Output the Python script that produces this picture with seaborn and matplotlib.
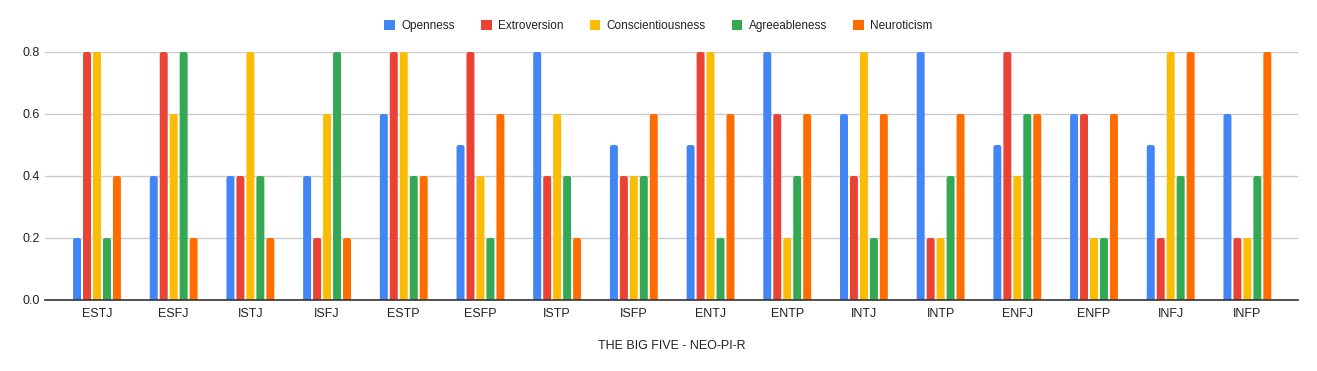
import matplotlib
matplotlib.use("Agg")
import matplotlib.pyplot as plt
import seaborn as sns
import pandas as pd
from matplotlib.ticker import FormatStrFormatter
from matplotlib.patches import FancyBboxPatch, Rectangle

types = ["ESTJ", "ESFJ", "ISTJ", "ISFJ", "ESTP", "ESFP", "ISTP", "ISFP",
         "ENTJ", "ENTP", "INTJ", "INTP", "ENFJ", "ENFP", "INFJ", "INFP"]
openness          = [0.2, 0.4, 0.4, 0.4, 0.6, 0.5, 0.8, 0.5, 0.5, 0.8, 0.6, 0.8, 0.5, 0.6, 0.5, 0.6]
extroversion      = [0.8, 0.8, 0.4, 0.2, 0.8, 0.8, 0.4, 0.4, 0.8, 0.6, 0.4, 0.2, 0.8, 0.6, 0.2, 0.2]
conscientiousness = [0.8, 0.6, 0.8, 0.6, 0.8, 0.4, 0.6, 0.4, 0.8, 0.2, 0.8, 0.2, 0.4, 0.2, 0.8, 0.2]
agreeableness     = [0.2, 0.8, 0.4, 0.8, 0.4, 0.2, 0.4, 0.4, 0.2, 0.4, 0.2, 0.4, 0.6, 0.2, 0.4, 0.4]
neuroticism       = [0.4, 0.2, 0.2, 0.2, 0.4, 0.6, 0.2, 0.6, 0.6, 0.6, 0.6, 0.6, 0.6, 0.6, 0.8, 0.8]

series_names = ["Openness", "Extroversion", "Conscientiousness", "Agreeableness", "Neuroticism"]
series_vals = [openness, extroversion, conscientiousness, agreeableness, neuroticism]
colors = ["#4285F4", "#EA4335", "#FBBC04", "#34A853", "#FF6D01"]

rows = []
for name, vals in zip(series_names, series_vals):
    for t, v in zip(types, vals):
        rows.append({"type": t, "trait": name, "value": v})
df = pd.DataFrame(rows)

sns.set_theme(style="white")
plt.rcParams["font.family"] = ["Liberation Sans", "DejaVu Sans"]

fig = plt.figure(figsize=(13.17, 3.71), dpi=100)
ax = fig.add_axes([45 / 1317, 1 - 300 / 371, (1298 - 45) / 1317, 248 / 371])

sns.barplot(data=df, x="type", y="value", hue="trait", order=types,
            hue_order=series_names, palette=colors, width=0.65, gap=0.2,
            errorbar=None, ax=ax, saturation=1, linewidth=0)

ax.set_xlim(-0.678, 15.66)
ax.set_ylim(0, 0.8)

# rounded bar tops (Google Sheets style)
xpx = ax.get_position().width * 1317 / (15.66 + 0.678)
ypx = ax.get_position().height * 371 / 0.8
aspect = xpx / ypx
for p in list(ax.patches):
    if isinstance(p, Rectangle) and p.get_height() > 0:
        x, y, w, h = p.get_x(), p.get_y(), p.get_width(), p.get_height()
        fc = p.get_facecolor()
        p.set_visible(False)
        fb = FancyBboxPatch((x, y - 0.02), w, h + 0.02,
                            boxstyle="round,pad=0,rounding_size=%f" % (w * 0.3),
                            mutation_aspect=aspect, facecolor=fc, edgecolor="none",
                            zorder=2)
        ax.add_patch(fb)

ax.set_yticks([0, 0.2, 0.4, 0.6, 0.8])
ax.yaxis.set_major_formatter(FormatStrFormatter("%.1f"))
ax.grid(axis="y", color="#cccccc", linewidth=1)
ax.set_axisbelow(True)
for s in ["top", "right", "left"]:
    ax.spines[s].set_visible(False)
ax.spines["bottom"].set_color("#333333")
ax.spines["bottom"].set_linewidth(1.2)
ax.spines["bottom"].set_zorder(3)
ax.tick_params(axis="x", length=0, labelsize=9, colors="#222222", pad=6)
ax.tick_params(axis="y", length=0, labelsize=9, colors="#222222", pad=3.5)
ax.set_ylabel("")
ax.set_xlabel("THE BIG FIVE - NEO-PI-R", fontsize=9, color="#222222", labelpad=14)

handles, labels = ax.get_legend_handles_labels()
ax.legend_.remove()
fig.legend(handles, labels, loc="center", bbox_to_anchor=(0.5, 1 - 26 / 371), ncol=5,
           frameon=False, fontsize=8.5, handlelength=0.9, handleheight=0.9,
           handletextpad=0.55, columnspacing=2.2, labelcolor="#222222")

fig.savefig("out.png", dpi=100)
